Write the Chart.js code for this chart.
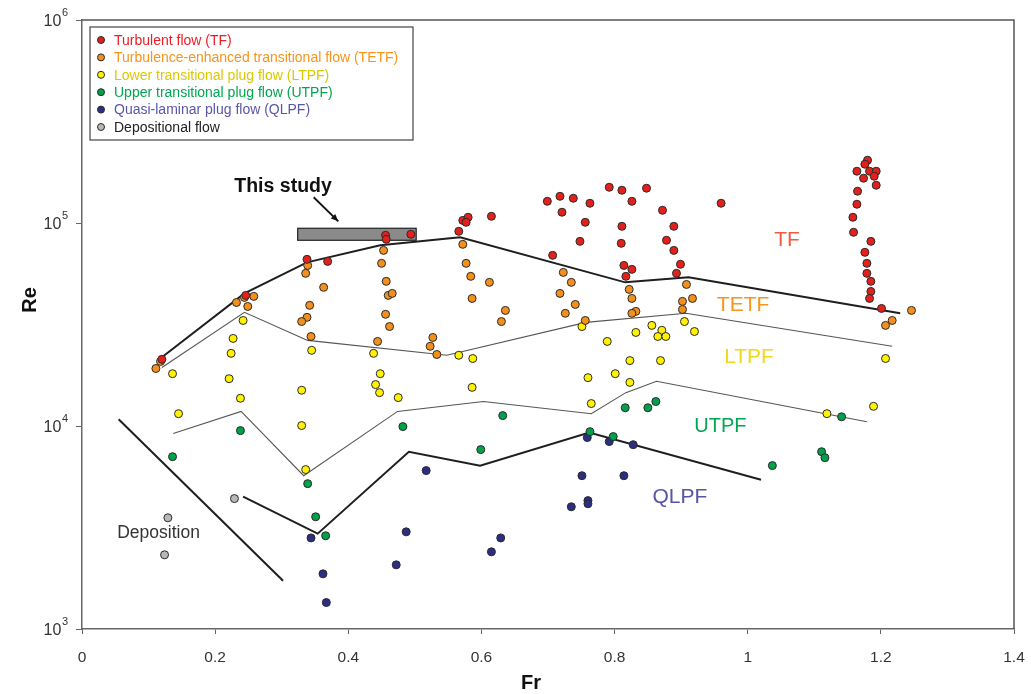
<!DOCTYPE html>
<html>
<head>
<meta charset="utf-8">
<script src="https://cdn.jsdelivr.net/npm/chart.js@4/dist/chart.umd.min.js"></script>
<style>
  html, body { margin: 0; padding: 0; background: #fff; }
  canvas { display: block; }
</style>
</head>
<body>
<canvas id="chart" width="1031" height="694"></canvas>
<script>
"use strict";

// Flow-type measurements (Fr, Re)
const tfFr = [0.12, 0.246, 0.338, 0.369, 0.456, 0.457, 0.494, 0.566, 0.572, 0.58, 0.577, 0.615, 0.699, 0.718, 0.738, 0.763, 0.721, 0.756, 0.748, 0.707, 0.792, 0.811, 0.848, 0.826, 0.872, 0.811, 0.889, 0.81, 0.878, 0.889, 0.814, 0.826, 0.817, 0.899, 0.893, 0.96, 1.18, 1.176, 1.164, 1.183, 1.193, 1.174, 1.19, 1.193, 1.165, 1.164, 1.158, 1.159, 1.185, 1.176, 1.179, 1.179, 1.185, 1.185, 1.183, 1.201];
const tfRe = [21300, 44000, 66200, 64700, 87000, 83100, 88000, 91000, 103000, 106700, 100800, 107900, 127900, 135400, 132400, 125100, 113000, 100800, 81200, 69300, 150000, 145000, 148400, 127900, 115500, 96300, 96300, 79400, 82200, 73300, 61800, 59100, 54600, 62600, 56500, 125100, 203900, 194800, 179900, 179900, 179900, 166200, 170000, 153500, 143400, 123700, 106700, 90000, 81200, 71700, 63300, 56500, 51600, 46000, 42500, 37950];

const tetfFr = [0.111, 0.118, 0.232, 0.244, 0.258, 0.249, 0.339, 0.336, 0.363, 0.342, 0.338, 0.330, 0.344, 0.453, 0.45, 0.457, 0.46, 0.466, 0.456, 0.462, 0.444, 0.527, 0.523, 0.533, 0.572, 0.577, 0.584, 0.612, 0.586, 0.636, 0.630, 0.723, 0.735, 0.718, 0.741, 0.726, 0.756, 0.822, 0.826, 0.832, 0.826, 0.908, 0.917, 0.902, 0.902, 1.246, 1.217, 1.207];
const tetfRe = [19200, 20800, 40600, 43000, 43500, 38800, 61800, 56500, 48200, 39300, 34300, 32700, 27600, 73300, 63300, 51600, 44000, 45000, 35500, 30900, 26100, 27300, 24700, 22500, 78500, 63300, 54600, 51000, 42500, 37100, 32700, 57100, 51000, 45000, 39700, 35900, 33100, 47100, 42500, 36700, 35900, 49800, 42500, 41100, 37500, 37100, 33100, 31300];

const ltpfFr = [0.136, 0.145, 0.242, 0.227, 0.224, 0.221, 0.238, 0.345, 0.330, 0.330, 0.336, 0.438, 0.448, 0.441, 0.447, 0.475, 0.566, 0.587, 0.586, 0.751, 0.789, 0.832, 0.856, 0.871, 0.865, 0.877, 0.905, 0.920, 0.823, 0.869, 0.760, 0.801, 0.823, 0.765, 1.207, 1.119, 1.189];
const ltpfRe = [18100, 11500, 33100, 27000, 22800, 17100, 13700, 23600, 15000, 10050, 6100, 22800, 18100, 16000, 14600, 13800, 22300, 21500, 15500, 30900, 26100, 28900, 31300, 29600, 27600, 27600, 32700, 29200, 21000, 21000, 17300, 18100, 16400, 12900, 21500, 11500, 12500];

const utpfFr = [0.136, 0.238, 0.339, 0.351, 0.366, 0.482, 0.632, 0.599, 0.763, 0.798, 0.816, 0.850, 0.862, 1.037, 1.141, 1.111, 1.116];
const utpfRe = [7060, 9490, 5200, 3570, 2880, 9930, 11250, 7650, 9380, 8870, 12300, 12300, 13200, 6380, 11100, 7470, 6980];

const qlpfFr = [0.344, 0.362, 0.367, 0.517, 0.487, 0.472, 0.759, 0.792, 0.828, 0.751, 0.814, 0.760, 0.760, 0.735, 0.629, 0.615];
const qlpfRe = [2810, 1870, 1350, 6030, 3010, 2070, 8770, 8380, 8090, 5690, 5690, 4290, 4140, 4000, 2810, 2400];

const depFr = [0.229, 0.129, 0.124];
const depRe = [4390, 3530, 2320];

// Boundary lines between flow types
const tfLineFr = [0.12, 0.244, 0.338, 0.448, 0.568, 0.816, 0.911, 1.229];
const tfLineRe = [21800, 45000, 64000, 77600, 85000, 51000, 54000, 35900];
const tetfLineFr = [0.12, 0.244, 0.339, 0.548, 0.757, 0.907, 1.217];
const tetfLineRe = [19400, 36300, 26400, 22300, 32400, 35900, 24700];
const ltpfLineFr = [0.137, 0.239, 0.333, 0.474, 0.603, 0.765, 0.817, 0.863, 1.179];
const ltpfLineRe = [9180, 11800, 5690, 11800, 13200, 11500, 14600, 16600, 10500];
const utpfLineFr = [0.242, 0.354, 0.491, 0.598, 0.762, 1.020];
const utpfLineRe = [4490, 2950, 7470, 6380, 9280, 5440];
const depLineFr = [0.055, 0.302];
const depLineRe = [10800, 1730];

// This study range
const studyFr = [0.324, 0.502];
const studyRe = [82200, 94200];

const yTicks = [1e3, 1e4, 1e5, 1e6];

const FONT = "'Liberation Sans', Arial, sans-serif";

function pts(xs, ys) {
    return xs.map((x, i) => ({ x: x, y: ys[i] }));
}

function pointSet(label, xs, ys, color, textColor) {
    return {
        label: label,
        data: pts(xs, ys),
        backgroundColor: color,
        borderColor: '#2a2a2a',
        borderWidth: 1,
        pointRadius: 4,
        textColor: textColor,
        order: 1
    };
}

function lineSet(xs, ys, width, color) {
    return {
        label: '',
        data: pts(xs, ys),
        showLine: true,
        borderColor: color,
        borderWidth: width,
        pointRadius: 0,
        fill: false,
        order: 2
    };
}

const datasets = [
    pointSet('Turbulent flow (TF)', tfFr, tfRe, '#e3211c', '#ec1c24'),
    pointSet('Turbulence-enhanced transitional flow (TETF)', tetfFr, tetfRe, '#f3901d', '#f7941d'),
    pointSet('Lower transitional plug flow (LTPF)', ltpfFr, ltpfRe, '#fff200', '#dcc800'),
    pointSet('Upper transitional plug flow (UTPF)', utpfFr, utpfRe, '#00a14b', '#00a651'),
    pointSet('Quasi-laminar plug flow (QLPF)', qlpfFr, qlpfRe, '#2b2e83', '#5956a8'),
    pointSet('Depositional flow', depFr, depRe, '#b8b8b8', '#222222'),
    lineSet(tfLineFr, tfLineRe, 2, '#1e1e1e'),
    lineSet(tetfLineFr, tetfLineRe, 1.1, '#555555'),
    lineSet(ltpfLineFr, ltpfLineRe, 1.1, '#555555'),
    lineSet(utpfLineFr, utpfLineRe, 2, '#1e1e1e'),
    lineSet(depLineFr, depLineRe, 2, '#1e1e1e')
];

// Region labels placed in data coordinates
const regions = [
    { text: 'TF', x: 1.059, y: 82200, color: '#f15a40', size: 21 },
    { text: 'TETF', x: 0.993, y: 39300, color: '#f7941d', size: 21 },
    { text: 'LTPF', x: 1.002, y: 21750, color: '#f0d81a', size: 21 },
    { text: 'UTPF', x: 0.959, y: 9930, color: '#00a651', size: 20 },
    { text: 'QLPF', x: 0.898, y: 4440, color: '#5654a4', size: 21 },
    { text: 'Deposition', x: 0.115, y: 2980, color: '#333333', size: 17.5 }
];

const overlay = {
    id: 'overlay',
    beforeDatasetsDraw(chart) {
        const ctx = chart.ctx;
        const xs = chart.scales.x, ys = chart.scales.y;
        const x0 = xs.getPixelForValue(studyFr[0]), x1 = xs.getPixelForValue(studyFr[1]);
        const y0 = ys.getPixelForValue(studyRe[1]), y1 = ys.getPixelForValue(studyRe[0]);
        ctx.save();
        ctx.fillStyle = '#8a8a8a';
        ctx.strokeStyle = '#222';
        ctx.lineWidth = 1.2;
        ctx.fillRect(x0, y0, x1 - x0, y1 - y0);
        ctx.strokeRect(x0, y0, x1 - x0, y1 - y0);
        ctx.restore();
    },
    afterDatasetsDraw(chart) {
        const ctx = chart.ctx;
        const area = chart.chartArea;
        const xs = chart.scales.x, ys = chart.scales.y;
        ctx.save();

        // top and right frame
        ctx.strokeStyle = '#555';
        ctx.lineWidth = 1.5;
        ctx.beginPath();
        ctx.moveTo(area.left, area.top);
        ctx.lineTo(area.right, area.top);
        ctx.lineTo(area.right, area.bottom);
        ctx.stroke();

        // y tick labels as 10 with superscript exponent
        ctx.fillStyle = '#333';
        ctx.textBaseline = 'middle';
        yTicks.forEach(v => {
            const py = ys.getPixelForValue(v);
            const exp = String(Math.round(Math.log10(v)));
            ctx.textAlign = 'right';
            ctx.font = '11px ' + FONT;
            ctx.fillText(exp, 68, py - 7);
            const ew = ctx.measureText(exp).width;
            ctx.font = '16px ' + FONT;
            ctx.fillText('10', 68 - ew - 0.5, py + 2);
        });

        // region labels
        ctx.textAlign = 'center';
        ctx.textBaseline = 'middle';
        regions.forEach(r => {
            ctx.font = r.size + 'px ' + FONT;
            ctx.fillStyle = r.color;
            ctx.fillText(r.text, xs.getPixelForValue(r.x), ys.getPixelForValue(r.y));
        });

        // "This study" note with arrow
        ctx.font = 'bold 19.5px ' + FONT;
        ctx.fillStyle = '#111';
        ctx.fillText('This study', xs.getPixelForValue(0.302), ys.getPixelForValue(151700));
        const ax0 = xs.getPixelForValue(0.348), ay0 = ys.getPixelForValue(133900);
        const ax1 = xs.getPixelForValue(0.385), ay1 = ys.getPixelForValue(101900);
        ctx.strokeStyle = '#111';
        ctx.lineWidth = 1.8;
        ctx.beginPath();
        ctx.moveTo(ax0, ay0);
        ctx.lineTo(ax1, ay1);
        ctx.stroke();
        const ang = Math.atan2(ay1 - ay0, ax1 - ax0);
        ctx.beginPath();
        ctx.moveTo(ax1, ay1);
        ctx.lineTo(ax1 - 8 * Math.cos(ang - 0.4), ay1 - 8 * Math.sin(ang - 0.4));
        ctx.lineTo(ax1 - 8 * Math.cos(ang + 0.4), ay1 - 8 * Math.sin(ang + 0.4));
        ctx.closePath();
        ctx.fillStyle = '#111';
        ctx.fill();

        // legend box
        const lx = area.left + 8, ly = area.top + 7;
        ctx.fillStyle = '#fff';
        ctx.fillRect(lx, ly, 323, 113);
        ctx.strokeStyle = '#444';
        ctx.lineWidth = 1.2;
        ctx.strokeRect(lx, ly, 323, 113);
        ctx.textAlign = 'left';
        ctx.font = '14px ' + FONT;
        let row = 0;
        chart.data.datasets.forEach(ds => {
            if (!ds.textColor) return;
            const cy = ly + 13 + row * 17.4;
            ctx.beginPath();
            ctx.arc(lx + 11, cy, 3.5, 0, Math.PI * 2);
            ctx.fillStyle = ds.backgroundColor;
            ctx.fill();
            ctx.strokeStyle = '#2a2a2a';
            ctx.lineWidth = 1;
            ctx.stroke();
            ctx.fillStyle = ds.textColor;
            ctx.fillText(ds.label, lx + 24, cy + 1);
            row++;
        });

        // axis titles
        ctx.fillStyle = '#111';
        ctx.font = 'bold 20px ' + FONT;
        ctx.textAlign = 'center';
        ctx.fillText('Fr', 531, 683);
        ctx.translate(30, 300);
        ctx.rotate(-Math.PI / 2);
        ctx.fillText('Re', 0, 0);
        ctx.restore();
    }
};

new Chart(document.getElementById('chart').getContext('2d'), {
    type: 'scatter',
    data: { datasets: datasets },
    options: {
        responsive: false,
        animation: false,
        layout: { padding: { top: 20, right: 17, left: 0, bottom: 0 } },
        plugins: {
            legend: { display: false },
            tooltip: { enabled: false }
        },
        scales: {
            x: {
                type: 'linear',
                min: 0,
                max: 1.4,
                afterFit(scale) {
                    scale.height = 65;
                    scale.paddingLeft = 0;
                    scale.paddingRight = 0;
                },
                ticks: {
                    stepSize: 0.2,
                    padding: 14,
                    color: '#333',
                    font: { family: FONT, size: 15.5 },
                    callback: v => String(Number(v.toFixed(1)))
                },
                grid: { drawOnChartArea: false, drawTicks: true, tickLength: 5, color: '#666' },
                border: { display: true, color: '#666', width: 1.5 }
            },
            y: {
                type: 'logarithmic',
                min: 1000,
                max: 1000000,
                afterFit(scale) {
                    scale.width = 82;
                    scale.paddingTop = 0;
                    scale.paddingBottom = 0;
                },
                afterBuildTicks(scale) {
                    scale.ticks = yTicks.map(v => ({ value: v }));
                },
                ticks: {
                    padding: 7,
                    font: { family: FONT, size: 15 },
                    callback: () => ''
                },
                grid: { drawOnChartArea: false, drawTicks: true, tickLength: 6, color: '#666' },
                border: { display: true, color: '#666', width: 1.5 }
            }
        }
    },
    plugins: [overlay]
});
</script>
</body>
</html>
